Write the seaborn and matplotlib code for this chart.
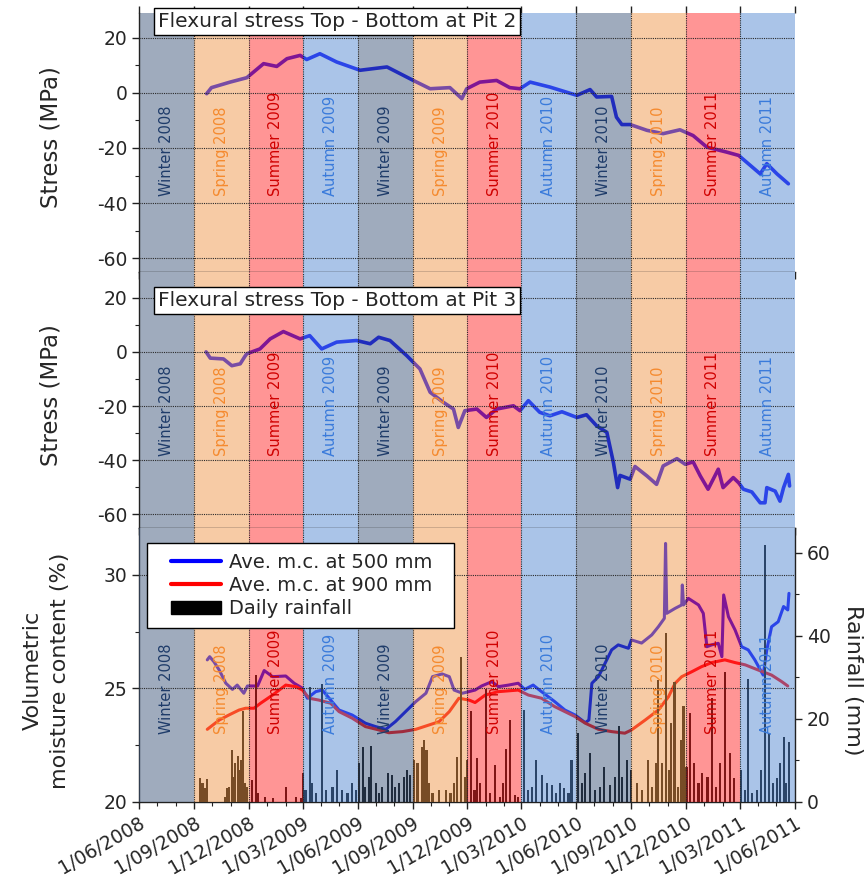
import matplotlib
matplotlib.use("Agg")
import matplotlib.pyplot as plt
import matplotlib.dates as mdates
from matplotlib.lines import Line2D
from matplotlib.patches import Patch
from matplotlib.legend_handler import HandlerLine2D, HandlerPatch
from matplotlib.ticker import MultipleLocator, FuncFormatter
from matplotlib.transforms import blended_transform_factory
import pandas as pd
import seaborn as sns

sns.set_style("ticks")
plt.rcParams["font.family"] = ["DejaVu Sans"]
plt.rcParams["axes.unicode_minus"] = False

START = pd.Timestamp("2008-06-01")

# seasons (Australian), boundaries and labels as printed on the chart
season_edges = ["2008-06-01", "2008-09-01", "2008-12-01", "2009-03-01", "2009-06-01",
                "2009-09-01", "2009-12-01", "2010-03-01", "2010-06-01", "2010-09-01",
                "2010-12-01", "2011-03-01", "2011-06-01"]
season_labels = ["Winter 2008", "Spring 2008", "Summer 2009", "Autumn 2009",
                 "Winter 2009", "Spring 2009", "Summer 2010", "Autumn 2010",
                 "Winter 2010", "Spring 2010", "Summer 2011", "Autumn 2011"]

# days since 1/06/2008
pit2_day = [113, 121, 152, 180, 208, 230, 247, 269, 280, 302, 330, 369, 414, 458, 486,
            519, 539, 547, 569, 597, 619, 636, 653, 686, 731, 753, 764, 789, 797, 806,
            820, 848, 875, 903, 925, 948, 981, 1001, 1037, 1048, 1065, 1084]
pit2_stress = [-0.3, 1.9, 3.9, 5.5, 10.6, 9.6, 12.4, 13.6, 12.1, 14.2, 11.2, 8.2, 9.4, 4.5, 1.5,
               1.9, -2.1, 1.5, 3.9, 4.5, 1.9, 1.5, 3.9, 2.1, -0.9, 1.2, -1.5, -1.3, -8.8, -11.5,
               -11.5, -13.6, -14.8, -13.4, -15.5, -19.7, -21.5, -22.7, -29.4, -25.7, -29.4, -33.0]

pit3_day = [112, 119, 141, 155, 169, 177, 180, 202, 219, 241, 269, 285, 305, 330, 363,
            386, 400, 419, 447, 469, 486, 508, 525, 533, 544, 564, 580, 597, 625, 636,
            650, 669, 686, 706, 731, 747, 764, 781, 792, 799, 803, 820, 828, 848, 864,
            875, 898, 912, 925, 937, 950, 967, 975, 992, 1001, 1009, 1023, 1037, 1045, 1048,
            1062, 1070, 1076, 1084, 1086]
pit3_stress = [0, -2.3, -2.6, -5.1, -4.4, -1.6, -0.7, 1.1, 4.8, 7.5, 4.8, 6.0, 1.1, 3.6, 4.2,
               3.0, 5.4, 4.2, -1.4, -6.3, -14.9, -18.6, -21.1, -27.9, -21.7, -21.1, -24.2, -21.1, -19.9, -21.7,
               -18.0, -22.3, -23.6, -22.1, -24.2, -23.2, -27.3, -29.7, -40.9, -50.1, -45.6, -47.0, -42.3, -45.8, -48.9,
               -42.1, -39.4, -41.5, -40.6, -45.8, -50.7, -43.3, -50.1, -46.4, -48.3, -50.7, -51.7, -55.7, -55.7, -50.1,
               -51.4, -55.1, -50.1, -45.2, -49.5]

mc500_day = [114, 118, 125, 134, 145, 156, 164, 175, 181, 198, 209, 223, 245, 259, 273,
             281, 295, 306, 320, 334, 356, 378, 395, 412, 428, 445, 462, 479, 490, 506,
             518, 526, 540, 561, 572, 589, 600, 617, 633, 644, 658, 672, 694, 711, 728,
             745, 751, 756, 767, 778, 789, 800, 817, 822, 839, 856, 867, 877, 879, 881,
             895, 906, 907, 909, 917, 934, 942, 948, 956, 967, 973, 976, 984, 995, 1006,
             1017, 1028, 1042, 1048, 1056, 1067, 1076, 1083, 1085]
mc500 = [26.26, 26.40, 26.18, 25.81, 25.23, 24.96, 25.15, 24.79, 25.11, 25.11, 25.79, 25.52, 25.55, 25.23, 25.01,
         24.57, 24.86, 24.93, 24.49, 24.05, 23.83, 23.47, 23.32, 23.20, 23.54, 23.98, 24.42, 24.79, 25.52, 25.64,
         25.52, 24.93, 24.79, 24.93, 25.11, 25.30, 25.08, 25.15, 25.23, 24.96, 25.15, 24.86, 24.42, 24.05, 23.83,
         23.49, 23.61, 25.23, 25.52, 26.11, 26.70, 26.92, 26.77, 27.14, 27.00, 27.36, 27.72, 28.09, 31.39, 28.31,
         28.53, 28.68, 29.56, 28.68, 28.97, 28.68, 28.31, 26.84, 26.92, 26.99, 26.40, 29.12, 28.16, 27.58, 26.84,
         26.70, 26.26, 25.59, 26.70, 27.72, 27.94, 28.61, 28.46, 29.19]

mc900_day = [114, 134, 150, 167, 178, 192, 203, 223, 245, 262, 273, 284, 300, 320, 334,
             356, 378, 401, 417, 440, 462, 484, 501, 518, 534, 551, 561, 578, 600, 633,
             650, 672, 694, 711, 728, 745, 767, 789, 811, 822, 845, 867, 884, 895, 906,
             923, 939, 956, 978, 995, 1012, 1034, 1056, 1073, 1083]
mc900 = [23.20, 23.61, 23.83, 24.05, 24.13, 24.13, 24.35, 24.71, 25.15, 25.08, 24.93, 24.57, 24.49, 24.35, 23.98,
         23.69, 23.32, 23.17, 23.05, 23.10, 23.20, 23.39, 23.54, 23.98, 24.57, 24.49, 24.38, 24.71, 24.86, 24.93,
         24.71, 24.57, 24.20, 23.98, 23.76, 23.47, 23.20, 23.10, 23.03, 23.17, 23.61, 24.05, 24.64, 25.23, 25.52,
         25.74, 25.96, 26.14, 26.26, 26.14, 26.04, 25.81, 25.59, 25.30, 25.11]

rain_day = [102, 106, 110, 114, 144, 147, 151, 155, 158, 161, 165, 168, 171, 174, 177, 180,
            189, 195, 199, 211, 223, 245, 262, 270,
            274, 278, 285, 289, 295, 305, 312, 323, 330, 339, 348, 356, 362,
            368, 374, 378, 384, 388, 395, 401, 406, 415, 423, 428, 434, 442, 448, 452,
            459, 465, 472, 476, 480, 484, 490, 501, 512, 520, 526, 531, 538, 544,
            547, 554, 560, 565, 569, 579, 586, 595, 603, 608, 613, 620, 628, 633,
            643, 649, 656, 662, 672, 681, 690, 696, 703, 710, 717, 722,
            733, 739, 745, 753, 761, 770, 777, 786, 794, 801, 807, 814,
            822, 831, 839, 849, 857, 863, 866, 873, 880, 885, 888, 894, 900, 905, 909,
            914, 920, 927, 934, 940, 949, 956, 963, 970, 978, 987, 994,
            1005, 1012, 1016, 1023, 1031, 1038, 1045, 1052, 1059, 1065, 1070, 1076, 1080, 1085]
rain_mm = [5.7, 4.5, 3.3, 5.5, 1.3, 3.3, 3.7, 12.4, 6.1, 9.3, 11.1, 7.7, 10.1, 21.8, 4.5, 3.5,
           5.3, 30.6, 2.1, 1.3, 0.9, 3.7, 1.3, 0.9,
           6.9, 2.9, 27.8, 4.5, 2.1, 28.4, 2.9, 3.7, 7.7, 2.9, 2.1, 4.5, 2.9,
           9.3, 13.3, 3.7, 6.1, 13.5, 4.5, 2.1, 3.7, 6.9, 6.5, 3.7, 4.5, 6.1, 7.7, 6.5,
           10.1, 9.3, 13.3, 14.9, 12.5, 4.5, 2.1, 2.9, 2.9, 2.1, 4.5, 10.9, 35.0, 6.1,
           10.1, 21.8, 2.9, 10.5, 4.5, 27.1, 2.1, 8.9, 1.3, 4.5, 12.7, 19.8, 1.7, 1.3,
           22.2, 2.9, 3.7, 10.1, 6.5, 4.5, 4.1, 2.1, 4.5, 3.3, 2.1, 10.1,
           16.5, 4.5, 6.9, 11.9, 2.9, 3.7, 8.5, 4.1, 6.1, 18.2, 6.1, 10.1,
           7.7, 4.5, 2.9, 10.1, 3.7, 9.3, 29.4, 9.3, 40.6, 7.7, 19.0, 29.0, 3.7, 14.9, 23.0,
           8.5, 21.4, 9.3, 4.5, 6.9, 6.1, 25.0, 3.7, 9.3, 31.2, 11.9, 5.7,
           7.7, 2.9, 29.6, 2.1, 2.9, 7.7, 61.9, 16.5, 4.5, 5.7, 9.3, 15.7, 4.5, 14.5]

band_fill = {"Winter": "#41597D", "Spring": "#F1994D", "Summer": "#FF2D2D", "Autumn": "#578BD3"}
text_col = {"Winter": "#1F3C6A", "Spring": "#F58A2E", "Summer": "#D00000", "Autumn": "#3A7BDB"}
GRID = "#2a2a2a"


def to_dates(days):
    return START + pd.to_timedelta(days, unit="D")


edges = pd.to_datetime(season_edges)


def shade(ax, label_y):
    # translucent season bands laid over the data, as in the original
    for i, lab in enumerate(season_labels):
        kind = lab.split()[0]
        a, b = mdates.date2num(edges[i]), mdates.date2num(edges[i + 1])
        ax.axvspan(a, b, color=band_fill[kind], alpha=0.5, lw=0, zorder=2)
        ax.text((a + b) / 2, label_y, lab, rotation=90, ha="center", va="bottom", fontsize=10.5,
                color=text_col[kind], transform=ax.get_xaxis_transform(), zorder=4)
    for e in edges[1:-1]:
        ax.axvline(mdates.date2num(e), color=GRID, lw=0.8, ls=(0, (1, 1)), zorder=3)


fig = plt.figure(figsize=(8.67, 8.81), dpi=100)
ax1 = fig.add_axes([0.1603, 0.6913, 0.7566, 0.2940])
ax2 = fig.add_axes([0.1603, 0.4007, 0.7566, 0.2906], sharex=ax1)
ax3 = fig.add_axes([0.1603, 0.0897, 0.7566, 0.3110], sharex=ax1)

sns.lineplot(x=to_dates(pit2_day), y=pit2_stress, ax=ax1, color="#0000FF", lw=2.6, estimator=None, zorder=1)
sns.lineplot(x=to_dates(pit3_day), y=pit3_stress, ax=ax2, color="#0000FF", lw=2.6, estimator=None, zorder=1)
sns.lineplot(x=to_dates(mc500_day), y=mc500, ax=ax3, color="#0000FF", lw=2.2, estimator=None, zorder=1)
sns.lineplot(x=to_dates(mc900_day), y=mc900, ax=ax3, color="#FF0000", lw=2.2, estimator=None, zorder=1)

ax3r = ax3.twinx()
ax3r.bar(to_dates(rain_day), rain_mm, width=3.5, color="black", lw=0, zorder=1)

for ax, ylim in ((ax1, (-65, 29)), (ax2, (-65, 29.5))):
    ax.set_ylim(*ylim)
    ax.yaxis.set_major_locator(MultipleLocator(20))
    ax.yaxis.set_minor_locator(MultipleLocator(10))
    shade(ax, 0.295 if ax is ax1 else 0.28)
    for y in (-60, -40, -20, 0, 20):
        ax.axhline(y, color=GRID, lw=0.8, ls=(0, (1, 1)), zorder=3)
    ax.set_ylabel("Stress (MPa)", fontsize=16.5)
    ax.yaxis.set_label_coords(-0.117, 0.52)
    ax.spines[["top", "right"]].set_visible(False)
    ax.tick_params(axis="x", labelbottom=False)

ax3.set_ylim(20, 32.07)
ax3.yaxis.set_major_locator(MultipleLocator(5))
ax3.yaxis.set_minor_locator(MultipleLocator(2.5))
shade(ax3r, 0.248)
mixed = blended_transform_factory(ax3r.transAxes, ax3.transData)
for y in (25, 30):
    ax3r.plot([0, 1], [y, y], color=GRID, lw=0.8, ls=(0, (1, 1)), transform=mixed, zorder=3)
ax3r.set_ylim(0, 66)
ax3r.yaxis.set_major_locator(MultipleLocator(20))
ax3r.yaxis.set_minor_locator(MultipleLocator(10))

ax3.set_ylabel("Volumetric\nmoisture content (%)", fontsize=16, linespacing=1.45)
ax3.yaxis.set_label_coords(-0.105, 0.48)
ax3r.set_ylabel("Rainfall (mm)", fontsize=16, rotation=270, va="bottom")
ax3r.yaxis.set_label_coords(1.073, 0.445)
ax3.spines[["top", "right"]].set_visible(False)
ax3r.spines[["top", "left", "bottom"]].set_visible(False)

for ax in (ax1, ax2, ax3):
    ax.set_xlabel("")
    ax.xaxis.label.set_visible(False)

ax1.set_xlim(mdates.date2num(edges[0]), mdates.date2num(edges[-1]))
ax1.xaxis.set_major_locator(mdates.MonthLocator(bymonth=[3, 6, 9, 12]))
ax1.xaxis.set_minor_locator(mdates.MonthLocator())


def fmt_date(v, pos):
    d = mdates.num2date(v)
    return f"{d.day}/{d.month:02d}/{d.year}"


ax1.xaxis.set_major_formatter(FuncFormatter(fmt_date))

for ax in (ax1, ax2, ax3, ax3r):
    ax.tick_params(which="major", direction="out", length=5, width=1, labelsize=13.5, color="#222222")
    ax.tick_params(which="minor", direction="out", length=3, width=0.8, color="#222222")
    for s in ax.spines.values():
        s.set_color("#222222")
        s.set_linewidth(1.0)
ax1.tick_params(axis="x", which="major", top=True)

ax3.tick_params(axis="x", labelrotation=30, labelsize=13.5)
for lab in ax3.get_xticklabels():
    lab.set_ha("right")
    lab.set_rotation_mode("anchor")

box = dict(boxstyle="square,pad=0.2", fc="white", ec="black", lw=1)
ax1.text(0.029, 0.967, "Flexural stress Top - Bottom at Pit 2", transform=ax1.transAxes,
         fontsize=14.5, ha="left", va="center", bbox=box, zorder=6)
ax2.text(0.029, 0.89, "Flexural stress Top - Bottom at Pit 3", transform=ax2.transAxes,
         fontsize=14.5, ha="left", va="center", bbox=box, zorder=6)

handles = [Line2D([], [], color="#0000FF", lw=3), Line2D([], [], color="#FF0000", lw=3),
           Patch(facecolor="black", edgecolor="black")]
leg = ax3r.legend(handles, ["Ave. m.c. at 500 mm  ", "Ave. m.c. at 900 mm  ", "Daily rainfall"],
                  loc="upper left", bbox_to_anchor=(0.012, 0.945), borderaxespad=0, fontsize=14,
                  frameon=True, fancybox=False, framealpha=1, edgecolor="black",
                  handlelength=3.3, labelspacing=0.22, borderpad=0.5, handletextpad=0.4,
                  handler_map={Line2D: HandlerLine2D(xpad=0.75), Patch: HandlerPatch(xpad=0.75)})
leg.get_frame().set_linewidth(1.0)
leg.set_zorder(10)

fig.savefig("out.png", dpi=100)
